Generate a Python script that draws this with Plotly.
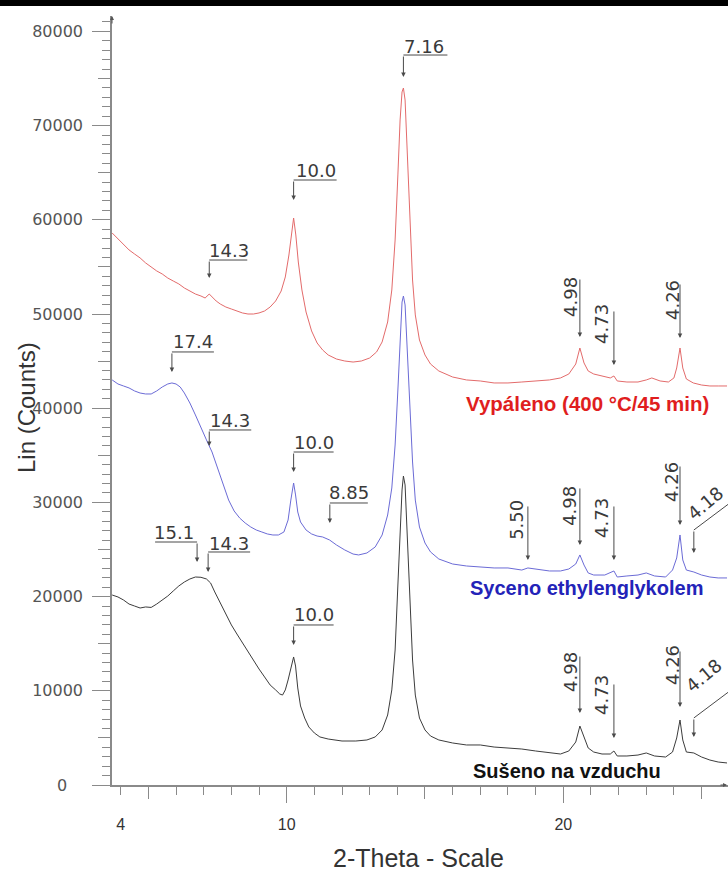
import plotly.graph_objects as go

# ---------------- data ----------------
two_theta_black = [3.69, 3.9, 4.1, 4.3, 4.5, 4.7, 4.9, 5.1, 5.3, 5.5, 5.7, 5.9, 6.1, 6.3, 6.5, 6.7, 6.9, 7.1,
                   7.25, 7.4, 7.6, 7.8, 8.0, 8.2, 8.4, 8.6, 8.8, 9.0, 9.2, 9.4, 9.6, 9.75, 9.85, 9.95, 10.05,
                   10.15, 10.25, 10.32, 10.4, 10.5, 10.65, 10.8, 11.0, 11.2, 11.5, 12.0, 12.5, 12.9, 13.2,
                   13.45, 13.65, 13.8, 13.92, 14.02, 14.1, 14.17, 14.22, 14.28, 14.35, 14.45, 14.55, 14.65,
                   14.8, 15.0, 15.2, 15.5, 16.0, 16.5, 17.0, 17.5, 18.0, 18.5, 19.0, 19.5, 19.9, 20.2, 20.45,
                   20.6, 20.75, 20.9, 21.1, 21.4, 21.7, 21.83, 21.95, 22.3, 22.7, 23.0, 23.3, 23.7, 23.95,
                   24.1, 24.22, 24.32, 24.45, 24.72, 25.0, 25.3, 25.6, 25.92]
counts_black = [20170, 19960, 19640, 19210, 19000, 18790, 18900, 18850, 19210, 19640, 20060, 20600, 21130,
                21550, 21870, 22080, 22050, 21870, 21440, 20490, 19320, 18150, 16990, 16030, 15070, 14120,
                13160, 12310, 11470, 10620, 10090, 9660, 9550, 10090, 11150, 12420, 13590, 12630, 10300,
                8390, 7110, 6160, 5520, 5100, 4880, 4670, 4670, 4780, 5100, 5840, 7430, 10090, 14330, 21230,
                27070, 31320, 32800, 31850, 27070, 19640, 13270, 9550, 7110, 5840, 5200, 4780, 4460, 4250,
                4250, 4030, 3930, 3820, 3610, 3400, 3290, 3610, 4560, 6260, 5100, 3930, 3500, 3290, 3290,
                3610, 3080, 3080, 3180, 3400, 3080, 2970, 3500, 4990, 6900, 4780, 3500, 3400, 2970, 2650,
                2440, 2340]

two_theta_blue = [3.69, 3.9, 4.1, 4.3, 4.5, 4.7, 4.9, 5.1, 5.3, 5.5, 5.7, 5.85, 6.0, 6.15, 6.3, 6.5, 6.7, 6.9,
                  7.1, 7.3, 7.5, 7.7, 7.9, 8.1, 8.3, 8.5, 8.7, 8.9, 9.1, 9.3, 9.5, 9.7, 9.9, 10.05, 10.15,
                  10.25, 10.32, 10.4, 10.5, 10.7, 10.9, 11.1, 11.3, 11.55, 11.8, 12.1, 12.4, 12.6, 12.9,
                  13.2, 13.45, 13.65, 13.8, 13.92, 14.02, 14.1, 14.17, 14.22, 14.28, 14.35, 14.45, 14.55,
                  14.65, 14.8, 15.0, 15.2, 15.5, 16.0, 16.5, 17.0, 17.5, 18.0, 18.5, 18.72, 19.0, 19.5,
                  19.9, 20.2, 20.45, 20.6, 20.75, 20.9, 21.1, 21.5, 21.83, 21.95, 22.3, 22.7, 23.0, 23.3,
                  23.7, 23.95, 24.1, 24.22, 24.32, 24.45, 24.72, 25.0, 25.3, 25.6, 25.92]
counts_blue = [43000, 42570, 42360, 42150, 41830, 41610, 41510, 41510, 41830, 42250, 42570, 42680, 42570,
               42250, 41610, 40550, 39280, 37900, 36630, 35350, 33760, 31950, 30250, 29090, 28340, 27810,
               27390, 27070, 26860, 26650, 26540, 26540, 26860, 28130, 30250, 32060, 30790, 28980, 27920,
               27070, 26650, 26430, 26330, 26010, 25480, 24950, 24520, 24420, 24630, 25270, 26540, 28660,
               31530, 36090, 41930, 47770, 51270, 51910, 50960, 46710, 39810, 34290, 30250, 27390, 25690,
               24740, 23990, 23460, 23250, 23140, 23040, 23040, 22820, 23040, 22930, 22720, 22720, 22930,
               23460, 24420, 23350, 22510, 22290, 22290, 22720, 22080, 22190, 22290, 22510, 22190, 22080,
               22820, 24100, 26540, 23890, 22820, 22610, 22290, 22080, 21980, 21980]

two_theta_red = [3.69, 3.9, 4.1, 4.3, 4.5, 4.7, 4.9, 5.1, 5.3, 5.5, 5.7, 5.9, 6.1, 6.3, 6.5, 6.7, 6.9, 7.05,
                 7.2, 7.3, 7.45, 7.6, 7.8, 8.0, 8.2, 8.4, 8.6, 8.8, 9.0, 9.2, 9.4, 9.6, 9.8, 9.95, 10.08,
                 10.18, 10.25, 10.33, 10.42, 10.55, 10.7, 10.9, 11.1, 11.3, 11.5, 11.8, 12.1, 12.4, 12.7,
                 13.0, 13.25, 13.45, 13.65, 13.8, 13.92, 14.02, 14.1, 14.17, 14.22, 14.28, 14.35, 14.45,
                 14.55, 14.65, 14.8, 15.0, 15.2, 15.5, 16.0, 16.5, 17.0, 17.5, 18.0, 18.5, 19.0, 19.5,
                 19.9, 20.2, 20.45, 20.6, 20.75, 20.9, 21.1, 21.4, 21.7, 21.83, 21.95, 22.3, 22.7, 23.0,
                 23.2, 23.5, 23.8, 24.0, 24.1, 24.22, 24.32, 24.45, 24.7, 25.0, 25.3, 25.6, 25.92]
counts_red = [58600, 57960, 57330, 56800, 56370, 55950, 55420, 54990, 54570, 54250, 53820, 53500, 53190,
              52760, 52440, 52120, 51910, 51700, 52120, 51800, 51380, 51060, 50740, 50530, 50320, 50110,
              50000, 50000, 50110, 50320, 50740, 51380, 52440, 53930, 56260, 58920, 60190, 58390, 55520,
              52550, 50210, 48200, 46920, 46180, 45650, 45220, 45010, 44900, 45010, 45330, 45970, 47030,
              49150, 52550, 57860, 64760, 70600, 73570, 73990, 72720, 67410, 59450, 53610, 49900, 47240,
              45650, 44690, 43950, 43310, 43000, 42890, 42680, 42680, 42780, 42890, 43000, 43210, 43630,
              44690, 46390, 44800, 43950, 43630, 43420, 43210, 43420, 42890, 42780, 42780, 43000, 43210,
              42890, 42780, 43210, 44270, 46390, 44270, 43100, 42680, 42460, 42360, 42360, 42360]

series_names = ["Sušeno na vzduchu", "Syceno ethylenglykolem", "Vypáleno (400 °C/45 min)"]

# d-spacing labels: text, 2-theta of the marked point, counts at the marked point
label_text = ["14.3", "10.0", "7.16", "4.98", "4.73", "4.26",
              "17.4", "14.3", "10.0", "8.85", "5.50", "4.98", "4.73", "4.26", "4.18",
              "15.1", "14.3", "10.0", "4.98", "4.73", "4.26", "4.18"]
label_theta = [7.2, 10.25, 14.22, 20.6, 21.83, 24.22,
               5.85, 7.2, 10.25, 11.56, 18.72, 20.6, 21.83, 24.22, 24.72,
               6.76, 7.16, 10.25, 20.6, 21.83, 24.22, 24.72]
label_counts = [52120, 60190, 73990, 46390, 43420, 46390,
                42680, 35990, 32060, 26010, 23040, 24420, 22720, 26540, 22610,
                22080, 21870, 13590, 6260, 3610, 6900, 3400]

y_tick_values = [0, 10000, 20000, 30000, 40000, 50000, 60000, 70000, 80000]
y_tick_text = ["", "10000", "20000", "30000", "40000", "50000", "60000", "70000", "80000"]
x_label_values = [4, 10, 20]
x_label_text = ["4", "10", "20"]

# ---------------- styling ----------------
AX = "#8a8a8a"
GRAY = "#4a4a4a"
LBL_FONT = dict(family="DejaVu Sans", size=18, color="#3a3a3a")
# label geometry (pixels): kind, gap above point, leg length, text dx, text dy, underline length
label_style = [
    ("L", 16, 18, 20, 44, 38), ("L", 18, 20, 22, 48, 43), ("L", 11, 22, 21, 42, 44),
    ("V", 11, 59, -10, 51, 0), ("V", 11, 55, -12, 52, 0), ("V", 10, 55, -8, 48, 0),
    ("L", 11, 20, 21, 41, 42), ("L", 0, 16, 21, 25, 42), ("L", 11, 20, 20, 41, 40),
    ("L", 17, 20, 19, 47, 38), ("V", 8, 55, -11, 48, 0), ("V", 10, 58, -10, 49, 0),
    ("V", 11, 55, -12, 53, 0), ("V", 10, 60, -8, 53, 0), ("D", 19, 23, 11, 69, 0),
    ("R", 15, 20, -23, 45, 42), ("L", 7, 20, 21, 35, 42), ("L", 12, 20, 20, 42, 40),
    ("V", 13, 58, -10, 54, 0), ("V", 13, 55, -12, 56, 0), ("V", 13, 57, -8, 55, 0),
    ("D", 16, 19, 10, 77, 0),
]

XR = [3.684, 25.955]
YR = [0, 81635]

fig = go.Figure()
fig.add_trace(go.Scatter(x=two_theta_black, y=counts_black, mode="lines", name=series_names[0],
                         line=dict(color="#3c3c3c", width=1), showlegend=False))
fig.add_trace(go.Scatter(x=two_theta_blue, y=counts_blue, mode="lines", name=series_names[1],
                         line=dict(color="#6b6bd6", width=1), showlegend=False))
fig.add_trace(go.Scatter(x=two_theta_red, y=counts_red, mode="lines", name=series_names[2],
                         line=dict(color="#e36b6b", width=1), showlegend=False))
# empty helper traces for the overlaid tick axes
fig.add_trace(go.Scatter(x=[], y=[], xaxis="x2", yaxis="y2", showlegend=False, hoverinfo="skip"))
fig.add_trace(go.Scatter(x=[], y=[], xaxis="x3", yaxis="y", showlegend=False, hoverinfo="skip"))

annotations = []
shapes = []
for t, xv, yv, st in zip(label_text, label_theta, label_counts, label_style):
    kind, gap, leg, dx, dy, ulen = st
    top = gap + leg
    annotations.append(dict(x=xv, y=yv, xref="x", yref="y", text="", showarrow=True, ax=0, ay=-top,
                            standoff=gap, arrowhead=2, arrowsize=0.9, arrowwidth=1, arrowcolor=GRAY))
    angle = 0
    if kind == "L":
        shapes.append(dict(type="line", xref="x", yref="y", xsizemode="pixel", ysizemode="pixel",
                           xanchor=xv, yanchor=yv, x0=0, x1=ulen, y0=top, y1=top,
                           line=dict(color=GRAY, width=1)))
    elif kind == "R":
        shapes.append(dict(type="line", xref="x", yref="y", xsizemode="pixel", ysizemode="pixel",
                           xanchor=xv, yanchor=yv, x0=-ulen, x1=0, y0=top, y1=top,
                           line=dict(color=GRAY, width=1)))
    elif kind == "V":
        angle = -90
    elif kind == "D":
        angle = -40
        shapes.append(dict(type="line", xref="x", yref="y", xsizemode="pixel", ysizemode="pixel",
                           xanchor=xv, yanchor=yv, x0=0, x1=44, y0=top, y1=top + 33,
                           line=dict(color=GRAY, width=1)))
    annotations.append(dict(x=xv, y=yv, xref="x", yref="y", text=t, showarrow=False, xshift=dx, yshift=dy,
                            textangle=angle, xanchor="center", yanchor="middle", font=LBL_FONT))

# series names
annotations += [
    dict(x=(711 - 112) / 616, y=(785 - 403) / 769, xref="paper", yref="paper", text=series_names[2],
         showarrow=False, xanchor="right", yanchor="middle",
         font=dict(family="Liberation Sans, Arial", size=20.5, color="#e01e1e", weight="bold")),
    dict(x=(705 - 112) / 616, y=(785 - 588) / 769, xref="paper", yref="paper", text=series_names[1],
         showarrow=False, xanchor="right", yanchor="middle",
         font=dict(family="Liberation Sans, Arial", size=20, color="#2323b8", weight="bold")),
    dict(x=(663 - 112) / 616, y=(785 - 771) / 769, xref="paper", yref="paper", text=series_names[0],
         showarrow=False, xanchor="right", yanchor="middle",
         font=dict(family="Liberation Sans, Arial", size=20, color="#111111", weight="bold")),
    # axis titles
    dict(x=(26 - 112) / 616, y=(785 - 408) / 769, xref="paper", yref="paper", text="Lin (Counts)",
         showarrow=False, textangle=-90, xanchor="center", yanchor="middle",
         font=dict(family="Liberation Sans, Arial", size=24, color="#333333")),
    dict(x=(418 - 112) / 616, y=(785 - 858) / 769, xref="paper", yref="paper", text="2-Theta - Scale",
         showarrow=False, xanchor="center", yanchor="middle",
         font=dict(family="Liberation Sans, Arial", size=25, color="#333333")),
    # zero label of the y axis
    dict(x=(62 - 112) / 616, y=0, xref="paper", yref="y", text="0", showarrow=False,
         xanchor="center", yanchor="middle", font=dict(family="DejaVu Sans", size=16, color="#555555")),
    # axis arrow heads
    dict(x=0, y=1, xref="paper", yref="paper", text="", showarrow=True, ax=0, ay=9,
         arrowhead=2, arrowsize=0.8, arrowwidth=1, arrowcolor="#555555"),
    dict(x=1, y=0, xref="paper", yref="paper", text="", showarrow=True, ax=-9, ay=0,
         arrowhead=2, arrowsize=0.8, arrowwidth=1, arrowcolor="#555555"),
]

# black bar at the very top (edge of the page frame)
shapes.append(dict(type="rect", xref="paper", yref="paper", x0=-0.2, x1=1.05,
                   y0=1 + 10 / 769, y1=1 + 17 / 769, fillcolor="black", line=dict(width=0)))

fig.update_layout(
    width=728, height=874, margin=dict(l=112, r=0, t=16, b=89),
    paper_bgcolor="white", plot_bgcolor="white",
    xaxis=dict(range=XR, showline=True, linecolor=AX, linewidth=1.5, ticks="outside", tickmode="linear",
               tick0=0, dtick=5, ticklen=12, tickcolor=AX, tickwidth=1, showticklabels=False,
               showgrid=False, zeroline=False,
               minor=dict(ticks="outside", dtick=1, tick0=0, ticklen=8, tickcolor=AX, tickwidth=1,
                          showgrid=False)),
    xaxis2=dict(range=XR, overlaying="x", anchor="y", tickmode="array", tickvals=[10, 20],
                ticks="outside", ticklen=17, tickcolor=AX, tickwidth=1, showticklabels=False,
                showline=False, showgrid=False, zeroline=False),
    xaxis3=dict(range=XR, overlaying="x", anchor="y", tickmode="array", tickvals=x_label_values,
                ticktext=x_label_text, ticks="", showticklabels=True, ticklabelstandoff=28,
                tickfont=dict(family="Liberation Sans, Arial", size=16, color="#333333"),
                showline=False, showgrid=False, zeroline=False),
    yaxis=dict(range=YR, showline=True, linecolor=AX, linewidth=1.5, ticks="outside", tickmode="array",
               tickvals=y_tick_values, ticktext=y_tick_text, ticklen=18, tickcolor=AX, tickwidth=1,
               ticklabelstandoff=6, tickfont=dict(family="DejaVu Sans", size=16, color="#555555"),
               showgrid=False, zeroline=False,
               minor=dict(ticks="outside", dtick=1000, tick0=0, ticklen=8, tickcolor=AX, tickwidth=1,
                          showgrid=False)),
    yaxis2=dict(range=YR, overlaying="y", anchor="x", side="left", tickmode="array",
                tickvals=[5000, 15000, 25000, 35000, 45000, 55000, 65000, 75000],
                ticks="outside", ticklen=13, tickcolor=AX, tickwidth=1, showticklabels=False,
                showline=False, showgrid=False, zeroline=False),
    annotations=annotations, shapes=shapes,
)

fig.write_html("out.html", config={"displayModeBar": False},
               post_script="document.body.style.margin='0';document.body.style.overflow='hidden';")
